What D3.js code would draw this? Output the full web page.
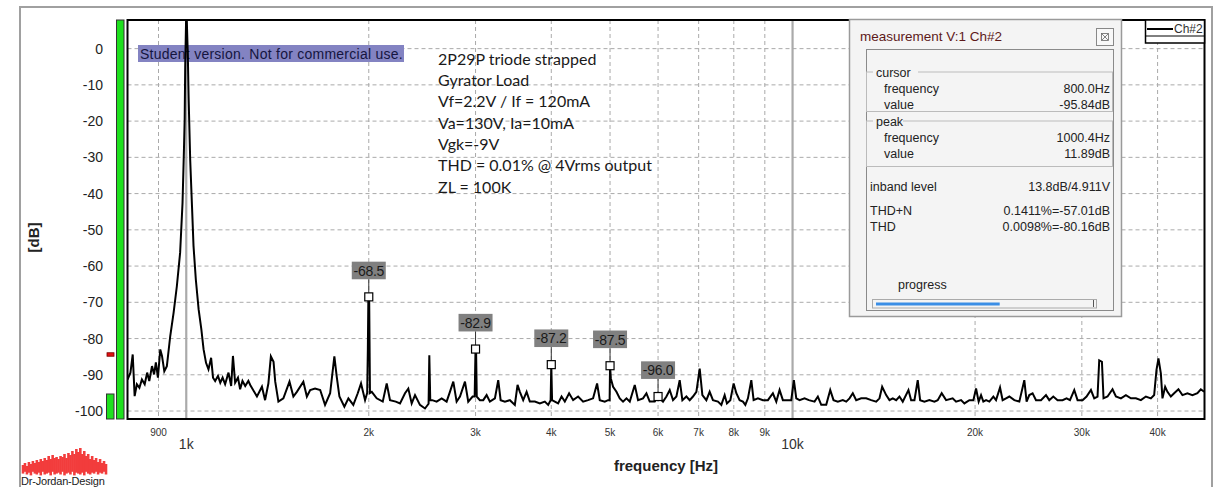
<!DOCTYPE html>
<html><head><meta charset="utf-8">
<script src="https://cdn.jsdelivr.net/npm/d3@7"></script>
<style>
body{margin:0;background:#fff;}
svg{display:block;font-family:"Liberation Sans",Arial,sans-serif;}
</style>
</head><body>
<svg id="c" width="1215" height="487"></svg>
<script>
// ---------------- data ----------------
const freqHz = [
800,809,816,822,829,837,845,854,862,869,878,885,891,898,906,912,920,929,941,953,965,977,986,991,994,996,
1000.4,1006,1009,1015,1022,1028,1037,1048,1059,1068,1078,1088,1099,1107,1116,1128,1138,1148,1159,1174,1186,1194,
1204,1217,1227,1238,1251,1266,1275,1308,1333,1349,1366,1379,1393,1402,1419,1446,1480,1502,1522,1560,1581,1601,
1631,1663,1694,1727,1755,1771,1789,1823,1851,1886,1918,1942,1972,1988,1993,1997,2003,2009,2023,2061,2109,2141,
2168,2216,2252,2295,2324,2354,2384,2429,2476,2510,2517,2526,2545,2588,2638,2688,2722,2757,2792,2828,2882,2918,
2967,2990,2996,3000,3006,3014,3050,3089,3129,3168,3229,3270,3300,3354,3418,3483,3519,3550,3595,3642,3687,3758,
3830,3903,3953,3990,4000,4012,4054,4105,4159,4211,4280,4346,4429,4514,4600,4688,4760,4809,4901,4963,4992,5000,
5015,5058,5123,5188,5253,5322,5389,5492,5561,5667,5741,5813,5925,6000,6114,6194,6272,6351,6433,6514,6581,6682,
6766,6851,6940,7028,7100,7208,7299,7391,7533,7630,7727,7794,7895,7995,8077,8179,8282,8358,8441,8550,8625,8767,
8935,9106,9280,9401,9519,9639,9824,9951,10050,10142,10270,10466,10638,10871,11008,11151,11364,11538,11683,11875,
12103,12260,12414,12571,12734,12978,13226,13480,13738,13911,14054,14269,14449,14631,14821,15007,15196,15529,15688,
15886,16086,16233,16499,16815,17137,17353,17618,17915,18369,18607,18964,19203,19571,19870,20075,20274,20459,20639,
20851,21114,21437,21658,21989,22207,22495,22778,23214,23659,24112,24323,24573,24883,25206,25689,26181,26511,26916,
27359,27883,28309,28677,29149,29516,30081,30541,31055,31446,31842,32048,32378,32575,33073,33706,34144,34798,35464,
36143,36835,37540,38259,38992,39483,39829,40132,40499,40746,41165,41526,42065,42595,43296,43958,44800,45658,46532,
47136,47730
];
const levelDb = [
-91.3,-89.4,-84.4,-95.9,-92.6,-93.6,-91.3,-92.6,-89.4,-91.7,-87.6,-89.9,-86.6,-90.8,-83,-84.8,-89,-87.6,-79.3,-72.9,-65.5,-56.3,-42.5,-28.7,-19.5,-5,
11.89,-2,-13.5,-30.5,-43.4,-54.5,-63.7,-71.9,-77.5,-83,-86.7,-88.5,-85.3,-90.8,-91.7,-90.3,-92.2,-90.8,-92.6,-89.4,-93.1,-84.8,
-92.2,-90.8,-94,-91.7,-93.1,-91.7,-92.8,-96,-93.3,-97,-92.4,-84.9,-86.4,-91.9,-97.4,-96.5,-91.9,-96,-94.7,-91.9,-96,-94.2,
-93.8,-94.2,-98.3,-95.1,-84.9,-90.6,-96,-98.8,-96.5,-98.3,-95.1,-92.4,-97,-95,-83,-68.5,-68.5,-95,-94.7,-96.5,-97.4,-92.4,
-97,-97.4,-97.9,-95.1,-93.8,-97.9,-95.6,-98.3,-99.3,-98,-84.6,-97,-97,-97.4,-96.5,-97.4,-94.7,-91.9,-97.4,-96,-91.9,-97.4,
-96,-96,-88,-82.9,-82.9,-96,-97,-97,-95.6,-97.4,-96.5,-91.5,-97,-97.4,-97,-98.3,-92.8,-94.7,-97,-94.7,-97.4,-97.4,
-97.9,-97.4,-98.3,-97,-87.2,-97,-97.4,-97.9,-96,-97.4,-95.1,-97,-96,-97.4,-97,-96.5,-92.4,-97,-97.4,-97,-97,-87.5,
-91,-93.3,-94.7,-96.5,-97.4,-96.5,-97.4,-92.8,-97,-96.5,-95.1,-97.4,-97.4,-96,-97.4,-96,-94.2,-97,-96,-91.5,-97,-96,
-97,-96,-94.7,-88.3,-95.6,-97,-94.7,-97,-97.4,-98.3,-95.6,-97.9,-97,-92.4,-95.1,-97,-97.4,-98.3,-96.5,-91.5,-97,-96.5,
-97,-97,-95.1,-97.4,-94.2,-97,-97,-97,-91.5,-96.5,-97,-96.5,-97,-97.4,-96,-98.3,-98.3,-94.2,-97,-97.4,
-97,-97.4,-96.5,-95.1,-97,-96.5,-96.5,-97,-97.4,-96.5,-93.3,-95.6,-97,-96.5,-97,-96,-97.4,-94.2,-97,
-97,-91.5,-97,-97.4,-97,-97.4,-97,-95.1,-97,-96.5,-97.4,-97,-97.9,-97,-97,-93.8,-97.4,-95.6,-97.4,
-97,-97.4,-96,-97,-93.5,-97,-96.5,-96,-97,-97.4,-91.5,-97.4,-95.6,-95.1,-97,-97,-95.6,-97,-96,
-97,-97,-96.5,-97,-94.2,-97,-97,-96,-94.2,-96.5,-96,-86,-86.4,-96.5,-96,-94,-96,-96.5,-95.6,
-96.5,-96.5,-97,-96,-96.5,-95.6,-88.7,-85.5,-89.6,-96.5,-93.3,-94.7,-96,-95.1,-94,-95.6,-95.1,-95.6,-95.1,
-94,-94.7
];
const harmonicHz = [2000, 3000, 4000, 5000, 6000];
const harmonicDb = [-68.5, -82.9, -87.2, -87.5, -96.0];
const harmonicText = ["-68.5", "-82.9", "-87.2", "-87.5", "-96.0"];

const yTicks = [0, -10, -20, -30, -40, -50, -60, -70, -80, -90, -100];
const xMinorTicks = [900, 2000, 3000, 4000, 5000, 6000, 7000, 8000, 9000, 20000, 30000, 40000];
const xMinorLabels = ["900", "2k", "3k", "4k", "5k", "6k", "7k", "8k", "9k", "20k", "30k", "40k"];
const xMajorTicks = [1000, 10000];
const xMajorLabels = ["1k", "10k"];

const noteLines = ["2P29P triode strapped", "Gyrator Load", "Vf=2.2V / If = 120mA",
  "Va=130V, Ia=10mA", "Vgk=-9V", "THD = 0.01% @ 4Vrms output", "ZL = 100K"];

const meterBarDb = [7.9, -95.3];     // tall bar, short bar
const meterPeakHoldDb = -84.4;

const logoHigh = [0.15,0.25,0.1,0.3,0.2,0.35,0.25,0.4,0.3,0.45,0.35,0.5,0.4,0.6,0.45,0.65,0.5,0.55,0.45,0.6,0.55,
  0.7,0.5,0.75,0.65,0.85,0.7,0.95,0.8,1.0,0.7,0.85,0.6,0.7,0.45,0.6,0.4,0.5,0.3,0.45,0.25,0.35,0.2];
const logoLow = [0.4,0.2,0.5,0.3,0.6,0.2,0.4,0.5,0.3,0.6,0.2,0.5,0.4,0.3,0.6,0.2,0.5,0.4,0.3,0.5,0.2,
  0.6,0.4,0.3,0.5,0.2,0.6,0.3,0.4,0.5,0.3,0.6,0.2,0.4,0.5,0.3,0.4,0.2,0.5,0.3,0.4,0.2,0.5];

const panelTitle = "measurement V:1 Ch#2";
const cursorRows = [["frequency", "800.0Hz"], ["value", "-95.84dB"]];
const peakRows = [["frequency", "1000.4Hz"], ["value", "11.89dB"]];
const levelRows = [["inband level", "13.8dB/4.911V"]];
const thdRows = [["THD+N", "0.1411%=-57.01dB"], ["THD", "0.0098%=-80.16dB"]];
const progressFraction = 0.57;

// ---------------- chart ----------------
const svg = d3.select("#c");
const L = 127.5, R = 1204.5, T = 20, B = 419;
const x = d3.scaleLog().domain([800, 47800]).range([L, R]);
const y = d3.scaleLinear().domain([-102.2, 7.9]).range([B, T]);

// outer frame
svg.append("rect").attr("x", 20).attr("y", 7).attr("width", 1192).attr("height", 500)
  .attr("fill", "#fff").attr("stroke", "#a0a0a0").attr("stroke-width", 2);

// clip
svg.append("defs").append("clipPath").attr("id", "plotclip")
  .append("rect").attr("x", L).attr("y", T).attr("width", R - L).attr("height", B - T);

// grid
const grid = svg.append("g");
grid.selectAll("line.h").data(yTicks).join("line")
  .attr("x1", L).attr("x2", R).attr("y1", d => y(d)).attr("y2", d => y(d))
  .attr("stroke", "#aaa").attr("stroke-width", 1).attr("stroke-dasharray", "4,3");
grid.selectAll("line.v").data(xMinorTicks).join("line")
  .attr("x1", d => x(d)).attr("x2", d => x(d)).attr("y1", T).attr("y2", B)
  .attr("stroke", "#aaa").attr("stroke-width", 1).attr("stroke-dasharray", "4,3");
grid.selectAll("line.m").data(xMajorTicks).join("line")
  .attr("x1", d => x(d)).attr("x2", d => x(d)).attr("y1", T).attr("y2", B)
  .attr("stroke", "#aaa").attr("stroke-width", 2.2);

// y labels
svg.append("g").selectAll("text").data(yTicks).join("text")
  .attr("x", 103).attr("y", d => y(d)).attr("text-anchor", "end").attr("dominant-baseline", "central")
  .attr("font-size", 14).attr("fill", "#222").text(d => d);
// x labels
svg.append("g").selectAll("text").data(xMinorTicks).join("text")
  .attr("x", d => x(d)).attr("y", 432).attr("text-anchor", "middle").attr("dominant-baseline", "central")
  .attr("font-size", 10).attr("fill", "#333").text((d, i) => xMinorLabels[i]);
svg.append("g").selectAll("text").data(xMajorTicks).join("text")
  .attr("x", d => x(d)).attr("y", 443.5).attr("text-anchor", "middle").attr("dominant-baseline", "central")
  .attr("font-size", 14).attr("fill", "#333").text((d, i) => xMajorLabels[i]);

svg.append("text").attr("x", (L + R) / 2).attr("y", 465).attr("text-anchor", "middle")
  .attr("dominant-baseline", "central").attr("font-size", 15).attr("font-weight", "bold")
  .attr("fill", "#222").text("frequency [Hz]");
svg.append("text").attr("transform", "translate(33,237.5) rotate(-90)").attr("text-anchor", "middle")
  .attr("dominant-baseline", "central").attr("font-size", 15).attr("font-weight", "bold")
  .attr("fill", "#222").text("[dB]");

// meters
svg.append("rect").attr("x", 116.5).attr("y", y(meterBarDb[0])).attr("width", 7.5)
  .attr("height", B - y(meterBarDb[0])).attr("fill", "#1ee01e").attr("stroke", "#333").attr("stroke-width", 1);
svg.append("rect").attr("x", 106.5).attr("y", y(meterBarDb[1])).attr("width", 7.5)
  .attr("height", B - y(meterBarDb[1])).attr("fill", "#1ee01e").attr("stroke", "#333").attr("stroke-width", 1);
svg.append("rect").attr("x", 107).attr("y", y(meterPeakHoldDb) - 1.75).attr("width", 7).attr("height", 3.5)
  .attr("fill", "#e01010").attr("stroke", "#700").attr("stroke-width", 0.8);

// student label
svg.append("rect").attr("x", 138).attr("y", 45).attr("width", 266).attr("height", 17)
  .attr("fill", "#8383c2");
svg.append("text").attr("x", 140).attr("y", 53.5).attr("dominant-baseline", "central")
  .attr("font-size", 14).attr("letter-spacing", 0.25).attr("fill", "#15153f")
  .text("Student version. Not for commercial use.");

// notes
svg.append("g").selectAll("text").data(noteLines).join("text")
  .attr("x", 438).attr("y", (d, i) => 58.3 + i * 21.3).attr("dominant-baseline", "central")
  .attr("font-family", "Lato, 'Liberation Sans', sans-serif").attr("font-size", 16)
  .attr("fill", "#1a1a1a").text(d => d);

// spectrum
const pts = freqHz.map((f, i) => [f, levelDb[i]]);
svg.append("path").datum(pts).attr("clip-path", "url(#plotclip)")
  .attr("d", d3.line().x(d => x(d[0])).y(d => y(d[1])))
  .attr("fill", "none").attr("stroke", "#000").attr("stroke-width", 2).attr("stroke-linejoin", "miter");

// harmonic markers
const hm = svg.append("g").selectAll("g").data(harmonicHz).join("g");
hm.append("line").attr("x1", d => x(d)).attr("x2", d => x(d))
  .attr("y1", (d, i) => y(harmonicDb[i]) - 17.6).attr("y2", (d, i) => y(harmonicDb[i]) - 4)
  .attr("stroke", "#333").attr("stroke-width", 1);
hm.append("rect").attr("x", d => x(d) - 4).attr("y", (d, i) => y(harmonicDb[i]) - 4)
  .attr("width", 8).attr("height", 8).attr("fill", "#fff").attr("stroke", "#000").attr("stroke-width", 1.2);
hm.append("rect").attr("x", d => x(d) - 17).attr("y", (d, i) => y(harmonicDb[i]) - 35.2)
  .attr("width", 34).attr("height", 17.6).attr("fill", "#808080");
hm.append("text").attr("x", d => x(d)).attr("y", (d, i) => y(harmonicDb[i]) - 26.2)
  .attr("text-anchor", "middle").attr("dominant-baseline", "central").attr("font-size", 14)
  .attr("letter-spacing", -0.3).attr("fill", "#1a1a1a").text((d, i) => harmonicText[i]);

// plot border
svg.append("rect").attr("x", L).attr("y", T).attr("width", R - L).attr("height", B - T)
  .attr("fill", "none").attr("stroke", "#000").attr("stroke-width", 2);

// legend
const lg = svg.append("g");
lg.append("rect").attr("x", 1145.5).attr("y", 20).attr("width", 59).attr("height", 23)
  .attr("fill", "#fff").attr("stroke", "#000").attr("stroke-width", 1.5);
lg.append("line").attr("x1", 1145.5).attr("x2", 1204.5).attr("y1", 36).attr("y2", 36).attr("stroke", "#000");
lg.append("line").attr("x1", 1147).attr("x2", 1173).attr("y1", 29).attr("y2", 29).attr("stroke", "#000").attr("stroke-width", 2);
lg.append("text").attr("x", 1174).attr("y", 29).attr("dominant-baseline", "central").attr("font-size", 12)
  .attr("fill", "#333").text("Ch#2");

// measurement panel
const mp = svg.append("g");
mp.append("rect").attr("x", 849.5).attr("y", 19.5).attr("width", 272).attr("height", 297)
  .attr("fill", "#f4f4f4").attr("stroke", "#9a9a9a").attr("stroke-width", 1.5);
mp.append("text").attr("x", 860).attr("y", 36).attr("dominant-baseline", "central").attr("font-size", 13.5)
  .attr("fill", "#5e1a1a").text(panelTitle);
mp.append("rect").attr("x", 1096.5).attr("y", 28.5).attr("width", 17).attr("height", 17)
  .attr("fill", "#f8f8f8").attr("stroke", "#888");
mp.append("rect").attr("x", 1101.5).attr("y", 33.5).attr("width", 7).attr("height", 7)
  .attr("fill", "none").attr("stroke", "#666").attr("stroke-width", 0.8);
mp.append("path").attr("d", "M1102,34 L1108,40 M1108,34 L1102,40").attr("stroke", "#666").attr("stroke-width", 0.8);
mp.append("rect").attr("x", 866.5).attr("y", 49.5).attr("width", 247).attr("height", 261)
  .attr("fill", "#f4f4f4").attr("stroke", "#8a8a8a");

function group(top, h, title, rows) {
  mp.append("rect").attr("x", 866.5).attr("y", top).attr("width", 246).attr("height", h)
    .attr("fill", "none").attr("stroke", "#bbb");
  mp.append("rect").attr("x", 873).attr("y", top - 7).attr("width", title.length * 7.5).attr("height", 14).attr("fill", "#f4f4f4");
  mp.append("text").attr("x", 876).attr("y", top + 1).attr("dominant-baseline", "central").attr("font-size", 12.5)
    .attr("fill", "#222").text(title);
  rows.forEach((r, i) => {
    mp.append("text").attr("x", 884).attr("y", top + 17 + i * 15.5).attr("dominant-baseline", "central")
      .attr("font-size", 12.5).attr("fill", "#222").text(r[0]);
    mp.append("text").attr("x", 1110).attr("y", top + 17 + i * 15.5).attr("dominant-baseline", "central")
      .attr("text-anchor", "end").attr("font-size", 12.5).attr("fill", "#222").text(r[1]);
  });
}
group(72, 39.5, "cursor", cursorRows);
group(121, 45.5, "peak", peakRows);
levelRows.concat(thdRows).forEach((r, i) => {
  const yy = i === 0 ? 186.5 : 211 + (i - 1) * 15.5;
  mp.append("text").attr("x", 870).attr("y", yy).attr("dominant-baseline", "central")
    .attr("font-size", 12.5).attr("fill", "#222").text(r[0]);
  mp.append("text").attr("x", 1110).attr("y", yy).attr("dominant-baseline", "central")
    .attr("text-anchor", "end").attr("font-size", 12.5).attr("fill", "#222").text(r[1]);
});
mp.append("text").attr("x", 898).attr("y", 285).attr("dominant-baseline", "central")
  .attr("font-size", 12.5).attr("fill", "#222").text("progress");
mp.append("rect").attr("x", 872.5).attr("y", 299.5).attr("width", 224).attr("height", 8.5)
  .attr("fill", "#f4f4f4").attr("stroke", "#aaa");
const pg = d3.scaleLinear().domain([0, 1]).range([876, 1093]);
mp.append("rect").attr("x", pg(0)).attr("y", 302.5).attr("width", pg(progressFraction) - pg(0)).attr("height", 3)
  .attr("fill", "#3a8ee6");
mp.append("line").attr("x1", 1093.5).attr("x2", 1093.5).attr("y1", 300).attr("y2", 307).attr("stroke", "#555");

// logo
const lx = d3.scaleLinear().domain([0, logoHigh.length - 1]).range([23, 106]);
svg.append("g").selectAll("line").data(logoHigh).join("line")
  .attr("x1", (d, i) => lx(i)).attr("x2", (d, i) => lx(i))
  .attr("y1", d => 468 - d * 20).attr("y2", (d, i) => 470 + logoLow[i] * 9)
  .attr("stroke", "#f23c3c").attr("stroke-width", 2.6);
svg.append("text").attr("x", 21).attr("y", 480.5).attr("dominant-baseline", "central")
  .attr("font-size", 11).attr("letter-spacing", -0.2).attr("fill", "#222").text("Dr-Jordan-Design");
</script>
</body></html>
